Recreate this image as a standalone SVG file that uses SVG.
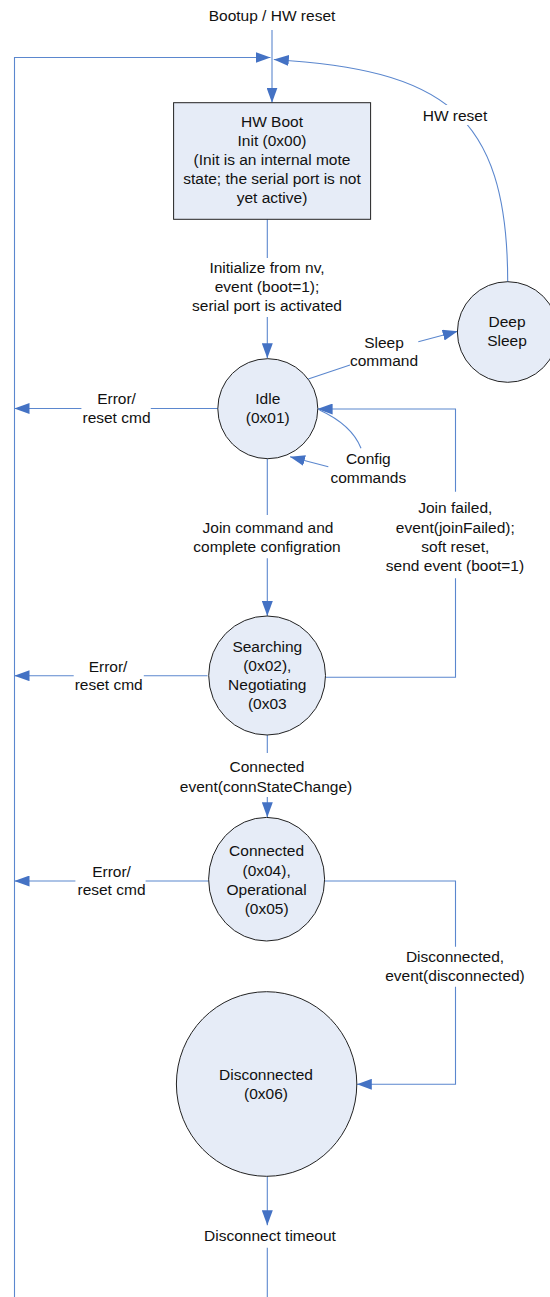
<svg xmlns="http://www.w3.org/2000/svg" width="550" height="1297" viewBox="0 0 550 1297">
<defs>
<marker id="arr" markerUnits="userSpaceOnUse" markerWidth="15" markerHeight="11" viewBox="0 0 15 11" refX="15" refY="5.5" orient="auto">
<path d="M0,0 L15,5.5 L0,11 z" fill="#4472C4"/>
</marker>
<style>
.ln{fill:none;stroke:#5B87CE;stroke-width:1.1}
.ar{marker-end:url(#arr)}
.nd{fill:#E6ECF7;stroke:#222;stroke-width:1}
text{font-family:"Liberation Sans",Arial,sans-serif;font-size:15.5px;fill:#111;text-anchor:middle}
</style>
</defs>
<rect width="550" height="1297" fill="#fff"/>

<g id="connectors">
<line class="ln ar" x1="272" y1="30" x2="272" y2="102.7"/>
<path class="ln ar" d="M14.5,1297 V57.5 H270.5"/>
<path class="ln ar" d="M507.7,282 C507.7,110 440,70 273.8,59.5"/>
<line class="ln" x1="267.3" y1="219.3" x2="267.3" y2="258"/>
<line class="ln ar" x1="267.3" y1="317" x2="267.3" y2="358.3"/>
<line class="ln" x1="308.3" y1="379" x2="350" y2="365"/>
<line class="ln ar" x1="418.3" y1="341.7" x2="457.7" y2="331.3"/>
<line class="ln" x1="218" y1="408.5" x2="150.8" y2="408.5"/>
<line class="ln ar" x1="81.4" y1="408.5" x2="14.5" y2="408.5"/>
<path class="ln" d="M455.5,578.3 V677.3 H325.5"/>
<path class="ln ar" d="M455.5,491.7 V409 H317.6"/>
<path class="ln" d="M361,448.3 Q352,425 319.5,410"/>
<line class="ln ar" x1="328.3" y1="466.7" x2="290" y2="456.7"/>
<line class="ln" x1="267.3" y1="459" x2="267.3" y2="515"/>
<line class="ln ar" x1="267.3" y1="558.3" x2="267.3" y2="616"/>
<line class="ln" x1="207.5" y1="675.7" x2="143.8" y2="675.7"/>
<line class="ln ar" x1="73.7" y1="675.7" x2="14.5" y2="675.7"/>
<line class="ln" x1="267.3" y1="735" x2="267.3" y2="753"/>
<line class="ln ar" x1="267.3" y1="797" x2="267.3" y2="817.3"/>
<line class="ln" x1="208.7" y1="881" x2="145.6" y2="881"/>
<line class="ln ar" x1="75.4" y1="881" x2="14.5" y2="881"/>
<path class="ln" d="M324.4,881 H455.5 V946.7"/>
<path class="ln ar" d="M455.5,986.7 V1084.3 H356.8"/>
<line class="ln ar" x1="267.3" y1="1176.3" x2="267.3" y2="1225.3"/>
<line class="ln" x1="267.3" y1="1247.7" x2="267.3" y2="1297"/>
</g>

<g id="label-bootup"><text x="272" y="21">Bootup / HW reset</text></g>
<g id="label-hwreset"><rect x="421" y="105" width="68" height="20" fill="#fff"/><text x="455" y="121">HW reset</text></g>
<g id="label-init"><text x="267" y="272.5">Initialize from nv,</text><text x="267" y="291.5">event (boot=1);</text><text x="267" y="310.5">serial port is activated</text></g>
<g id="label-sleep"><text x="384" y="348">Sleep</text><text x="384" y="366">command</text></g>
<g id="label-err1"><text x="116.5" y="404">Error/</text><text x="116.5" y="422.7">reset cmd</text></g>
<g id="label-config"><text x="368.3" y="464">Config</text><text x="368.3" y="482.7">commands</text></g>
<g id="label-joinfailed"><text x="455.3" y="513">Join failed,</text><text x="455.3" y="532.5">event(joinFailed);</text><text x="455.3" y="551.5">soft reset,</text><text x="455" y="570.5">send event (boot=1)</text></g>
<g id="label-join"><text x="268" y="532.5">Join command and</text><text x="267" y="551.5">complete configration</text></g>
<g id="label-err2"><text x="108" y="671.7">Error/</text><text x="108.7" y="690">reset cmd</text></g>
<g id="label-connected"><text x="267" y="772">Connected</text><text x="266" y="791.5">event(connStateChange)</text></g>
<g id="label-err3"><text x="111.5" y="876.5">Error/</text><text x="111.5" y="895">reset cmd</text></g>
<g id="label-disc"><text x="455" y="961.5">Disconnected,</text><text x="455" y="980.5">event(disconnected)</text></g>
<g id="label-timeout"><text x="270" y="1241">Disconnect timeout</text></g>

<g id="node-hwboot">
<rect class="nd" x="173.6" y="102.7" width="197" height="116.6"/>
<text x="272" y="127">HW Boot</text>
<text x="272" y="146">Init (0x00)</text>
<text x="272" y="165">(Init is an internal mote</text>
<text x="272" y="184">state; the serial port is not</text>
<text x="272" y="203">yet active)</text>
</g>
<g id="node-idle">
<circle class="nd" cx="267.8" cy="408.7" r="50"/>
<text x="267.8" y="403.5">Idle</text>
<text x="267.8" y="422.5">(0x01)</text>
</g>
<g id="node-deepsleep">
<circle class="nd" cx="507.7" cy="332" r="50.3"/>
<text x="507" y="326.5">Deep</text>
<text x="507" y="345.5">Sleep</text>
</g>
<g id="node-searching">
<ellipse class="nd" cx="267.1" cy="675.5" rx="58.4" ry="59.5"/>
<text x="267.3" y="651.5">Searching</text>
<text x="267.3" y="670.5">(0x02),</text>
<text x="267.3" y="689.5">Negotiating</text>
<text x="267.3" y="708.5">(0x03</text>
</g>
<g id="node-connected">
<ellipse class="nd" cx="266.6" cy="879.2" rx="58" ry="61.8"/>
<text x="266.6" y="856">Connected</text>
<text x="266.6" y="875.5">(0x04),</text>
<text x="266.6" y="894.5">Operational</text>
<text x="266.6" y="913.5">(0x05)</text>
</g>
<g id="node-disconnected">
<ellipse class="nd" cx="266.6" cy="1084" rx="90.2" ry="92.3"/>
<text x="266" y="1079.5">Disconnected</text>
<text x="266" y="1098.5">(0x06)</text>
</g>
</svg>
